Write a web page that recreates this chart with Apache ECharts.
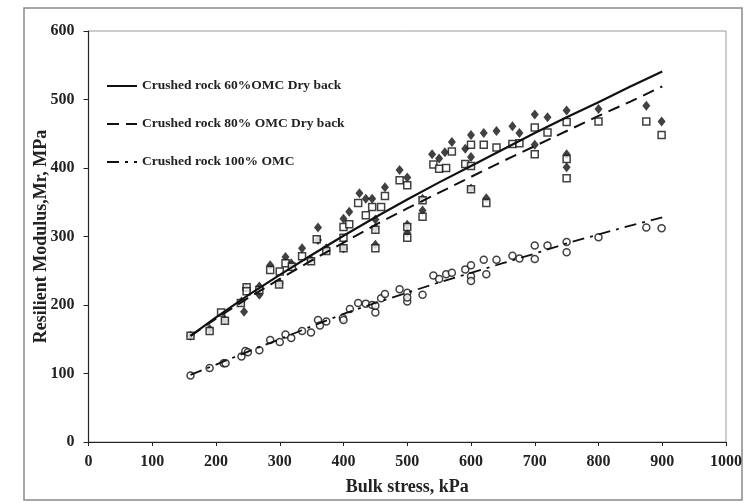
<!DOCTYPE html>
<html>
<head>
<meta charset="utf-8">
<script src="https://cdn.jsdelivr.net/npm/echarts@6/dist/echarts.min.js"></script>
<style>
html,body{margin:0;padding:0;background:#fff;}
#chart{width:746px;height:503px;}
</style>
</head>
<body>
<div id="chart"></div>
<script>
// ---- Data ----
const seriesNames = ['Crushed rock 60%OMC Dry back', 'Crushed rock 80% OMC Dry back', 'Crushed rock 100% OMC'];

// measured points [bulk stress kPa, Mr MPa]
const points60 = [[160,155],[190,165],[214,178],[240,205],[244,190],[247,225],[268,227],[268,215],[285,258],[300,232],[309,270],[318,261],[335,283],[349,266],[360,313],[360,295],[373,283],[400,326],[400,283],[409,336],[425,363],[435,355],[445,355],[450,325],[450,312],[450,288],[465,372],[488,397],[500,386],[500,317],[500,305],[524,338],[524,355],[539,420],[550,414],[559,423],[570,438],[591,428],[600,448],[600,416],[600,370],[620,451],[624,356],[640,454],[665,461],[676,451],[700,478],[700,434],[720,474],[750,484],[750,420],[750,401],[800,486],[875,491],[899,468]];

const points80 = [[160,155],[190,162],[208,189],[214,177],[239,203],[248,226],[248,220],[268,222],[285,251],[299,230],[300,249],[309,261],[319,256],[335,271],[349,264],[358,296],[373,279],[400,283],[400,298],[400,314],[409,318],[423,349],[435,331],[445,343],[450,310],[450,283],[459,343],[465,359],[488,382],[500,375],[500,314],[500,298],[524,353],[524,329],[541,405],[550,399],[561,400],[570,424],[591,406],[600,403],[600,434],[600,369],[620,434],[624,349],[640,430],[665,435],[676,436],[700,459],[700,420],[720,452],[750,467],[750,413],[750,385],[800,468],[875,468],[899,448]];

const points100 = [[160,97],[190,108],[212,115],[215,115],[240,125],[246,133],[250,131],[268,134],[285,149],[300,146],[309,157],[318,152],[335,162],[349,160],[360,178],[363,170],[373,176],[399,181],[400,178],[410,194],[423,203],[435,202],[445,200],[450,189],[450,199],[459,210],[465,216],[488,223],[500,218],[500,205],[500,211],[524,215],[541,243],[550,238],[561,245],[570,247],[591,252],[600,258],[600,242],[600,235],[620,266],[624,245],[640,266],[665,272],[676,268],[700,287],[700,267],[720,287],[750,292],[750,277],[800,299],[875,313],[899,312]];

// trend lines
const fitStress = [160,200,250,300,350,400,450,500,550,600,650,700,750,800,850,900];
const fit60  = [155,182,214,244,273,301,328,354,379,403,427,451,474,496,519,541];
const fit80  = [155,180,210,238,265,291,317,341,364,387,410,432,454,476,497,519];
const fit100 = [98,113,132,150,169,187,203,218,233,247,261,275,290,303,316,328];

const xTicks = [0,100,200,300,400,500,600,700,800,900,1000];
const yTicks = [0,100,200,300,400,500,600];

// ---- Chart ----
const FONT = "'Liberation Serif','Times New Roman',serif";
const chart = echarts.init(document.getElementById('chart'), null, {renderer:'canvas'});
const pair = (xs, ys) => xs.map((x,i)=>[x, ys[i]]);

const option = {
  backgroundColor: '#fff',
  animation: false,
  graphic: [{
    type: 'rect', shape: {x: 24, y: 8, width: 718, height: 492},
    style: {fill: 'none', stroke: '#8a8a8a', lineWidth: 1.5}, z: -10
  }],
  grid: {left: 88.5, right: 20, top: 31, bottom: 61, show: true, borderColor: '#999', borderWidth: 1},
  legend: {
    orient: 'vertical', left: 101, top: 74,
    itemWidth: 30, itemHeight: 14, itemGap: 24,
    data: seriesNames,
    itemStyle: {opacity: 0},
    textStyle: {fontFamily: FONT, fontWeight: 'bold', fontSize: 13.5, color: '#222'}
  },
  xAxis: {
    type: 'value', min: xTicks[0], max: xTicks[xTicks.length-1], interval: 100,
    name: 'Bulk stress, kPa', nameLocation: 'middle', nameGap: 36, nameMoveOverlap: false,
    nameTextStyle: {fontFamily: FONT, fontWeight: 'bold', fontSize: 18, color: '#222'},
    axisLine: {lineStyle: {color: '#222', width: 1.2}},
    axisTick: {show: true, length: 4, lineStyle: {color: '#222'}},
    axisLabel: {fontFamily: FONT, fontWeight: 'bold', fontSize: 16, color: '#222', margin: 12,
                formatter: v => String(v)},
    splitLine: {show: false}
  },
  yAxis: {
    type: 'value', min: yTicks[0], max: yTicks[yTicks.length-1], interval: 100,
    name: 'Resilient Modulus,Mr, MPa', nameLocation: 'middle', nameGap: 38, nameMoveOverlap: false,
    nameTextStyle: {fontFamily: FONT, fontWeight: 'bold', fontSize: 18, color: '#222'},
    axisLine: {show: true, lineStyle: {color: '#222', width: 1.2}},
    axisTick: {show: true, length: 5, lineStyle: {color: '#222'}},
    axisLabel: {fontFamily: FONT, fontWeight: 'bold', fontSize: 16, color: '#222', margin: 14,
                formatter: v => String(v)},
    splitLine: {show: false}
  },
  series: [
    {name: 'pts60', type: 'scatter', data: points60, symbol: 'diamond', symbolSize: [8,10],
     itemStyle: {color: '#111'}, z: 3},
    {name: 'pts80', type: 'scatter', data: points80, symbol: 'rect', symbolSize: 7,
     itemStyle: {color: '#fff', borderColor: '#111', borderWidth: 1.5}, z: 3},
    {name: 'pts100', type: 'scatter', data: points100, symbol: 'circle', symbolSize: 7,
     itemStyle: {color: '#fff', borderColor: '#111', borderWidth: 1.5}, z: 3},
    {name: seriesNames[0], type: 'line', data: pair(fitStress, fit60), showSymbol: false, symbol: 'none',
     lineStyle: {color: '#111', width: 2.2, type: 'solid'}, itemStyle: {color: '#111'}, z: 4},
    {name: seriesNames[1], type: 'line', data: pair(fitStress, fit80), showSymbol: false, symbol: 'none',
     lineStyle: {color: '#111', width: 2, type: [12, 7]}, itemStyle: {color: '#111'}, z: 4},
    {name: seriesNames[2], type: 'line', data: pair(fitStress, fit100), showSymbol: false, symbol: 'none',
     lineStyle: {color: '#111', width: 1.8, type: [12, 6, 3, 6]}, itemStyle: {color: '#111'}, z: 4}
  ]
};
chart.setOption(option);
</script>
</body>
</html>
